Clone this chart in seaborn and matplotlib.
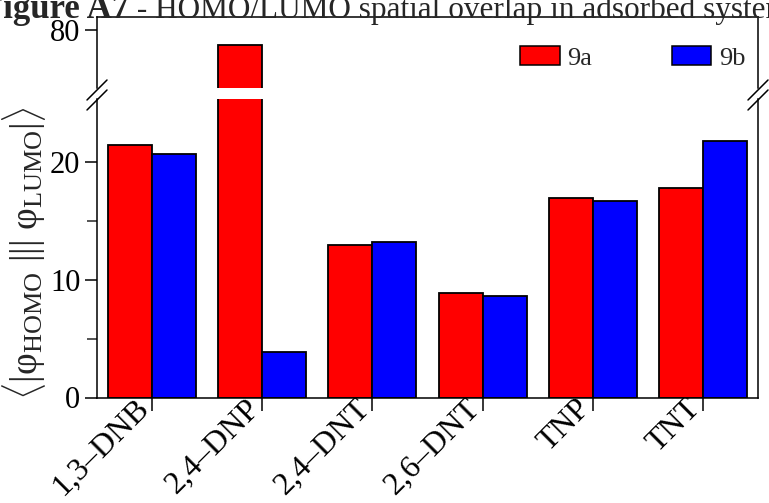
import pandas as pd
import matplotlib
matplotlib.use('Agg')
import matplotlib.pyplot as plt
import matplotlib.transforms as mtransforms
import seaborn as sns
from matplotlib.patches import Patch
from matplotlib.lines import Line2D

# values
molecules = ['1,3–DNB', '2,4–DNP', '2,4–DNT', '2,6–DNT', 'TNP', 'TNT']
overlap_9a = [21.5, 78.7, 13.0, 8.9, 17.0, 17.8]
overlap_9b = [20.7, 3.85, 13.2, 8.6, 16.75, 21.8]
systems = ['9a', '9b']
colors = ['#ff0000', '#0000ff']

df = pd.DataFrame({
    'molecule': molecules * 2,
    'system': [systems[0]] * len(molecules) + [systems[1]] * len(molecules),
    'overlap': overlap_9a + overlap_9b,
})

sns.set_style('ticks')
plt.rcParams['font.family'] = ['Liberation Serif', 'DejaVu Serif']
plt.rcParams['mathtext.fontset'] = 'custom'
plt.rcParams['mathtext.rm'] = 'Liberation Serif'
plt.rcParams['mathtext.it'] = 'Liberation Serif'

W, H = 769, 503
fig = plt.figure(figsize=(W / 100, H / 100), dpi=100)


def px_axes(x0, y0, x1, y1):
    return fig.add_axes([x0 / W, 1 - y1 / H, (x1 - x0) / W, (y1 - y0) / H])


ax_top = px_axes(97, 17, 758, 88)
ax_bot = px_axes(97, 99, 758, 397.5)

for ax in (ax_top, ax_bot):
    sns.barplot(data=df, x='molecule', y='overlap', hue='system', palette=colors,
                saturation=1, width=0.8, edgecolor='black', linewidth=1.3,
                ax=ax, legend=False)
    ax.set_xlim(-0.5, 5.5)
    ax.set_xlabel('')
    ax.set_ylabel('')
    for s in ax.spines.values():
        s.set_linewidth(1.1)
        s.set_color('black')
    ax.tick_params(axis='both', direction='out', length=9, width=1.1,
                   labelsize=22, colors='black', pad=3)
    ax.tick_params(which='minor', direction='out', length=7, width=1.1)

# upper part of the broken axis
ax_top.set_ylim(75, 81.1)
ax_top.set_yticks([80])
ax_top.spines['bottom'].set_visible(False)
ax_top.tick_params(axis='x', bottom=False, labelbottom=False)

# lower part
ax_bot.set_ylim(0, 25.4)
ax_bot.set_yticks([0, 10, 20])
ax_bot.set_yticks([5, 15], minor=True)
ax_bot.spines['top'].set_visible(False)
ax_bot.set_xticks(range(len(molecules)))
ax_bot.set_xticklabels(molecules, rotation=45, ha='right', va='center',
                       rotation_mode='anchor', fontsize=23)
ax_bot.tick_params(axis='x', pad=-5)
# nudge the slanted labels left of their ticks
shift = mtransforms.ScaledTranslation(-7 / 100, -1 / 100, fig.dpi_scale_trans)
for lbl in ax_bot.get_xticklabels():
    lbl.set_transform(lbl.get_transform() + shift)

# break marks
for xc in (97, 758):
    for yc in (90, 100):
        fig.add_artist(Line2D([(xc - 10) / W, (xc + 10) / W],
                              [1 - (yc + 10) / H, 1 - (yc - 10) / H],
                              transform=fig.transFigure, color='black', lw=1.1))

# legend
handles = [Patch(facecolor=c, edgecolor='black', linewidth=1.1) for c in colors]
fig.legend(handles, systems, loc='center left',
           bbox_to_anchor=(520 / W, 1 - 58 / H), ncol=2, frameon=False,
           fontsize=19, handlelength=1.5, handleheight=0.75, handletextpad=0.3,
           columnspacing=3.0, borderpad=0, borderaxespad=0)

# y label
fig.text(24 / W, 1 - 253 / H,
         r'$\langle|\mathrm{φ}_{\mathrm{HOMO}}\ |||\ \mathrm{φ}_{\mathrm{LUMO}}|\rangle$',
         rotation=90, ha='center', va='center', fontsize=27)

# caption cut off at the top of the page
base_y = 1 - 18 / H
t1 = fig.text(-18 / W, base_y, 'Figure A7', fontweight='bold', fontsize=25,
              va='baseline', ha='left')
fig.canvas.draw()
bb = t1.get_window_extent()
fig.text(bb.x1 / W, base_y, ' - HOMO/LUMO spatial overlap in adsorbed systems',
         fontsize=22.5, va='baseline', ha='left')

fig.savefig('out.png', dpi=100)
